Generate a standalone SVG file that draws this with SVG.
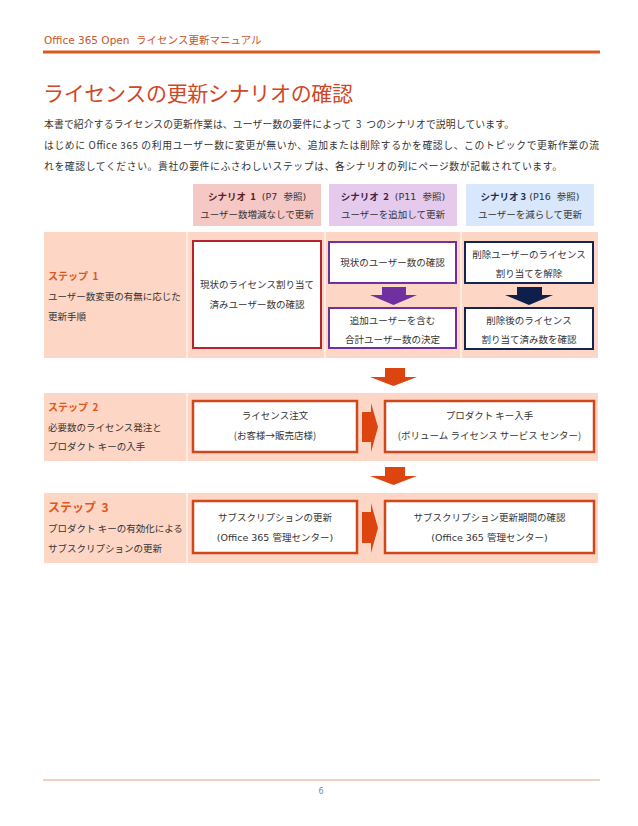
<svg xmlns="http://www.w3.org/2000/svg" width="638" height="826" viewBox="0 0 638 826">
<defs>
<style>
text{font-family:"DejaVu Sans","Noto Sans CJK JP",sans-serif;font-size:9.5px;fill:#333}
.jp{font-family:"Noto Sans CJK JP","Noto Sans CJK SC",sans-serif}
.c{text-anchor:middle}
.band{fill:#FDD6C6}
.sep{stroke:#FFF3EE;stroke-width:1.5}
.step{fill:#E0561C;font-weight:bold;font-size:10px}
.box{fill:#fff;stroke-width:2}
.red{stroke:#B8232B}
.pur{stroke:#7030A0}
.nav{stroke:#152452}
.org{stroke:#D2461B;stroke-width:2.5}
.oarrow{fill:#DC4410}
</style>
</defs>
<rect width="638" height="826" fill="#fff"/>

<g id="header">
<text x="44" y="44" style="font-size:10.5px;fill:#C9562A">Office 365 Open&#160; <tspan class="jp">ライセンス更新マニュアル</tspan></text>
<line x1="43" y1="52" x2="600" y2="52" stroke="#DA5A22" stroke-width="3"/>
</g>

<g id="title">
<text x="43" y="101" class="jp" style="font-size:21px;fill:#D24726" textLength="310">ライセンスの更新シナリオの確認</text>
</g>

<g id="intro">
<text x="44" y="128" class="jp" style="font-size:9.8px" textLength="470">本書で紹介するライセンスの更新作業は、ユーザー数の要件によって&#160;&#160;3&#160;&#160;つのシナリオで説明しています。</text>
<text x="44" y="149" class="jp" style="font-size:9.8px" textLength="555">はじめに Office 365 の利用ユーザー数に変更が無いか、追加または削除するかを確認し、このトピックで更新作業の流</text>
<text x="44" y="170" class="jp" style="font-size:9.8px" textLength="518">れを確認してください。貴社の要件にふさわしいステップは、各シナリオの列にページ数が記載されています。</text>
</g>

<g id="scenario1">
<rect x="193" y="184" width="128" height="42" fill="#F5C8C6"/>
<text x="257" y="200" class="c"><tspan class="jp" font-weight="bold" fill="#5A1E1E">シナリオ&#160;&#160;1</tspan>&#160;&#160;(P7&#160; <tspan class="jp">参照</tspan>)</text>
<text x="257" y="218" class="c jp">ユーザー数増減なしで更新</text>
</g>
<g id="scenario2">
<rect x="329" y="184" width="128" height="42" fill="#E6CAEE"/>
<text x="393" y="200" class="c"><tspan class="jp" font-weight="bold" fill="#3E2248">シナリオ&#160;&#160;2</tspan>&#160;&#160;(P11&#160; <tspan class="jp">参照</tspan>)</text>
<text x="393" y="218" class="c jp">ユーザーを追加して更新</text>
</g>
<g id="scenario3">
<rect x="466" y="184" width="128" height="42" fill="#D8E7FB"/>
<text x="530" y="200" class="c"><tspan class="jp" font-weight="bold" fill="#1E2E52">シナリオ&#160;3</tspan> (P16&#160; <tspan class="jp">参照</tspan>)</text>
<text x="530" y="218" class="c jp">ユーザーを減らして更新</text>
</g>

<g id="step1">
<rect x="44" y="232" width="554" height="126" class="band"/>
<line x1="187" y1="232" x2="187" y2="358" class="sep"/>
<line x1="325" y1="232" x2="325" y2="358" class="sep"/>
<line x1="461" y1="232" x2="461" y2="358" class="sep"/>
<text x="48" y="280" class="step jp">ステップ&#160;&#160;1</text>
<text x="48" y="300" class="jp">ユーザー数変更の有無に応じた</text>
<text x="48" y="320" class="jp">更新手順</text>
</g>

<g id="box-s1">
<rect x="193" y="241" width="128" height="107" class="box red"/>
<text x="257" y="288" class="c jp">現状のライセンス割り当て</text>
<text x="257" y="308" class="c jp">済みユーザー数の確認</text>
</g>
<g id="box-s2a">
<rect x="329" y="242" width="127" height="41" class="box pur"/>
<text x="392.5" y="266" class="c jp">現状のユーザー数の確認</text>
</g>
<g id="box-s2b">
<rect x="329" y="308" width="127" height="40" class="box pur"/>
<text x="392.5" y="324" class="c jp">追加ユーザーを含む</text>
<text x="392.5" y="343" class="c jp">合計ユーザー数の決定</text>
</g>
<g id="box-s3a">
<rect x="465" y="242" width="128" height="41" class="box nav"/>
<text x="529" y="258" class="c jp">削除ユーザーのライセンス</text>
<text x="529" y="277" class="c jp">割り当てを解除</text>
</g>
<g id="box-s3b">
<rect x="465" y="308" width="128" height="41" class="box nav"/>
<text x="529" y="324" class="c jp">削除後のライセンス</text>
<text x="529" y="343" class="c jp">割り当て済み数を確認</text>
</g>

<g id="step2">
<rect x="44" y="393" width="554" height="68" class="band"/>
<line x1="187" y1="393" x2="187" y2="461" class="sep"/>
<text x="48" y="411" class="step jp">ステップ&#160;&#160;2</text>
<text x="48" y="431" class="jp">必要数のライセンス発注と</text>
<text x="48" y="450" class="jp">プロダクト キーの入手</text>
</g>
<g id="box-order">
<rect x="193" y="401" width="164" height="51" class="box org"/>
<text x="275" y="419" class="c jp">ライセンス注文</text>
<text x="275" y="439" class="c jp">(お客様→販売店様)</text>
</g>
<g id="box-key">
<rect x="385" y="401" width="209" height="51" class="box org"/>
<text x="489.5" y="419" class="c jp">プロダクト キー入手</text>
<text x="489.5" y="439" class="c jp">(ボリューム ライセンス サービス センター)</text>
</g>

<g id="step3">
<rect x="44" y="493" width="554" height="70" class="band"/>
<line x1="187" y1="493" x2="187" y2="563" class="sep"/>
<text x="48" y="512" class="step jp" style="font-size:12px">ステップ&#160;&#160;3</text>
<text x="48" y="532" class="jp">プロダクト キーの有効化による</text>
<text x="48" y="552" class="jp">サブスクリプションの更新</text>
</g>
<g id="box-renew">
<rect x="193" y="501" width="164" height="52" class="box org"/>
<text x="275" y="521" class="c jp">サブスクリプションの更新</text>
<text x="275" y="541" class="c">(Office 365 <tspan class="jp">管理センター</tspan>)</text>
</g>
<g id="box-period">
<rect x="385" y="501" width="209" height="52" class="box org"/>
<text x="489.5" y="521" class="c jp">サブスクリプション更新期間の確認</text>
<text x="489.5" y="541" class="c">(Office 365 <tspan class="jp">管理センター</tspan>)</text>
</g>

<g id="connectors">
<polygon points="382,287 406,287 406,295 417,295 393.5,305 370,295 382,295" fill="#7030A0"/>
<polygon points="517,287 542,287 542,295 553,295 529,305 505,295 517,295" fill="#0F1F4B"/>
<polygon class="oarrow" points="385,368 405,368 405,377 417,377 393.5,386 370,377 385,377"/>
<polygon class="oarrow" points="385,467 405,467 405,476 417,476 393.5,485 370,476 385,476"/>
<polygon class="oarrow" points="362,412 371,412 371,403 378,427 371,452 371,442 362,442"/>
<polygon class="oarrow" points="362,512 371,512 371,503 378,528 371,553 371,543 362,543"/>
</g>

<g id="footer">
<line x1="43" y1="780" x2="600" y2="780" stroke="#F3CDBF" stroke-width="2"/>
<text x="321" y="794" class="c" style="font-size:8px;fill:#888">6</text>
</g>
</svg>
